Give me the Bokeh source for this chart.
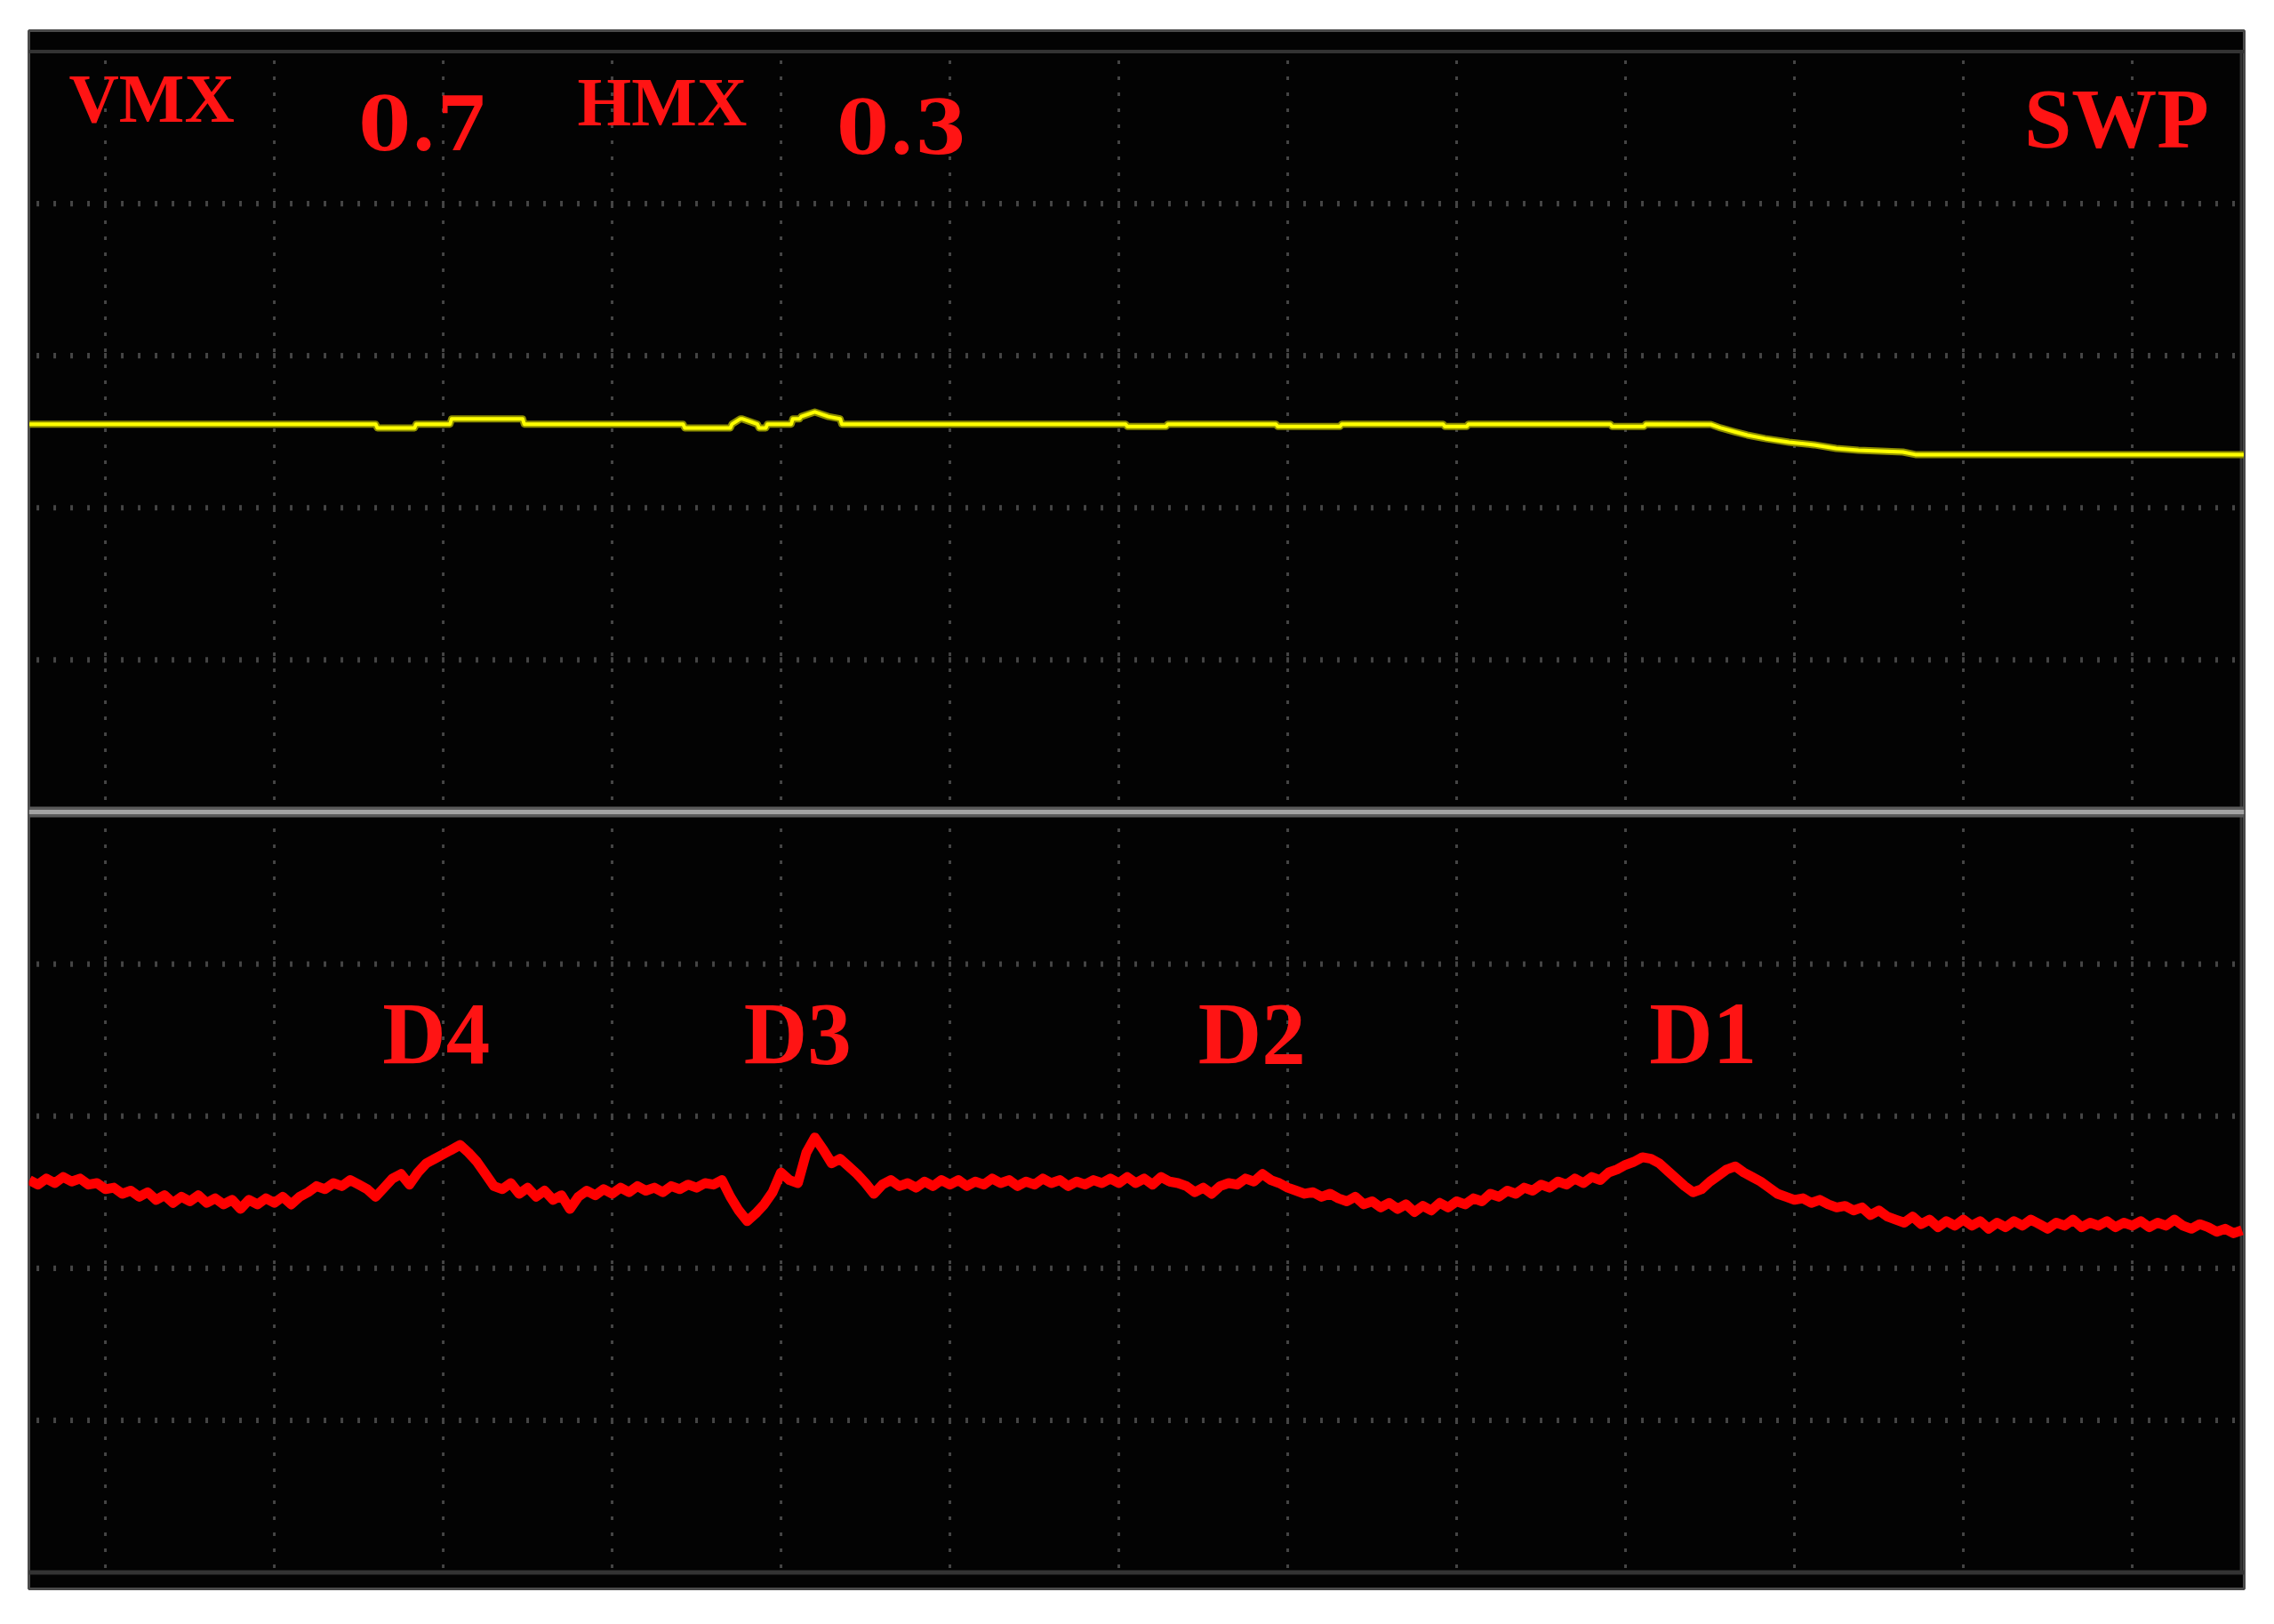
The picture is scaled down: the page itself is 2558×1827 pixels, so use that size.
import numpy as np
from bokeh.plotting import figure
from bokeh.models import Range1d, Label
from bokeh.embed import file_html
from bokeh.resources import INLINE

# ---------------- data (screen divisions) ----------------
# channel 1 (yellow) : step-like trace, x in divisions, y in divisions
ch1_t = [-0.45, 1.60, 1.61, 1.83, 1.84, 2.04, 2.05, 2.47, 2.48, 3.42, 3.43, 3.70, 3.71,
         3.76, 3.77, 3.86, 3.87, 3.91, 3.92, 4.06, 4.07, 4.11, 4.12, 4.20, 4.28, 4.35,
         4.36, 6.04, 6.05, 6.28, 6.29, 6.93, 6.94, 7.31, 7.32, 7.92, 7.93, 8.06, 8.07,
         8.91, 8.92, 9.11, 9.12, 9.505, 9.563, 9.642, 9.721, 9.826, 9.968, 10.116,
         10.247, 10.379, 10.642, 10.716, 12.66]
ch1_v = [2.55, 2.55, 2.525, 2.525, 2.55, 2.55, 2.585, 2.585, 2.55, 2.55, 2.525, 2.525, 2.55,
         2.585, 2.585, 2.55, 2.525, 2.525, 2.55, 2.55, 2.585, 2.585, 2.60, 2.63, 2.60, 2.585,
         2.55, 2.55, 2.535, 2.535, 2.55, 2.55, 2.535, 2.535, 2.55, 2.55, 2.535, 2.535, 2.55,
         2.55, 2.535, 2.535, 2.55, 2.548, 2.525, 2.501, 2.478, 2.455, 2.431, 2.414,
         2.390, 2.379, 2.367, 2.350, 2.350]

# channel 2 (red) : sampled every 0.05 div from -0.45 to 12.65
ch2_t = np.round(np.linspace(-0.45, 12.65, 263), 2)
ch2_v = [
    -2.42, -2.45, -2.41, -2.44, -2.40, -2.43, -2.41, -2.45, -2.44, -2.48,
    -2.47, -2.51, -2.49, -2.53, -2.50, -2.55, -2.52, -2.57, -2.53, -2.56,
    -2.52, -2.57, -2.54, -2.58, -2.55, -2.61, -2.55, -2.58, -2.54, -2.57,
    -2.53, -2.58, -2.53, -2.50, -2.46, -2.48, -2.44, -2.46, -2.42, -2.45,
    -2.48, -2.53, -2.47, -2.41, -2.38, -2.45, -2.37, -2.31, -2.28, -2.25,
    -2.22, -2.19, -2.24, -2.30, -2.38, -2.46, -2.48, -2.44, -2.51, -2.47,
    -2.53, -2.49, -2.55, -2.52, -2.61, -2.53, -2.49, -2.52, -2.48, -2.51,
    -2.47, -2.50, -2.46, -2.49, -2.47, -2.50, -2.46, -2.48, -2.45, -2.47,
    -2.44, -2.45, -2.42, -2.53, -2.62, -2.69, -2.64, -2.58, -2.50, -2.37,
    -2.42, -2.44, -2.24, -2.14, -2.22, -2.31, -2.28, -2.33, -2.38, -2.44,
    -2.51, -2.45, -2.42, -2.46, -2.44, -2.47, -2.43, -2.46, -2.42, -2.45,
    -2.42, -2.46, -2.43, -2.45, -2.41, -2.44, -2.42, -2.46, -2.43, -2.45,
    -2.41, -2.44, -2.42, -2.46, -2.43, -2.45, -2.42, -2.44, -2.41, -2.44,
    -2.40, -2.44, -2.41, -2.45, -2.40, -2.43, -2.44, -2.46, -2.50, -2.47,
    -2.51, -2.46, -2.44, -2.45, -2.41, -2.43, -2.38, -2.42, -2.44, -2.47,
    -2.49, -2.51, -2.50, -2.53, -2.51, -2.54, -2.56, -2.53, -2.58, -2.56,
    -2.60, -2.57, -2.61, -2.58, -2.63, -2.59, -2.62, -2.57, -2.60, -2.56,
    -2.58, -2.54, -2.56, -2.51, -2.53, -2.49, -2.51, -2.47, -2.49, -2.45,
    -2.47, -2.43, -2.45, -2.41, -2.44, -2.40, -2.42, -2.37, -2.35, -2.32,
    -2.30, -2.27, -2.28, -2.31, -2.36, -2.41, -2.46, -2.50, -2.48, -2.43,
    -2.39, -2.35, -2.33, -2.37, -2.40, -2.43, -2.47, -2.51, -2.53, -2.55,
    -2.54, -2.57, -2.55, -2.58, -2.60, -2.59, -2.62, -2.60, -2.65, -2.62,
    -2.66, -2.68, -2.70, -2.66, -2.71, -2.68, -2.73, -2.69, -2.72, -2.68,
    -2.72, -2.69, -2.74, -2.70, -2.73, -2.69, -2.72, -2.68, -2.71, -2.74,
    -2.70, -2.72, -2.68, -2.73, -2.70, -2.72, -2.69, -2.73, -2.70, -2.72,
    -2.69, -2.73, -2.70, -2.72, -2.68, -2.72, -2.74, -2.71, -2.73, -2.76,
    -2.74, -2.77, -2.75,
]

header_text = ["VMX", "HMX"]
value_text = ["0.7", "0.3"]
mode_text = ["SWP"]
defect_text = ["D4", "D3", "D2", "D1"]

# label anchor positions (divisions)
header_x, header_y = [-0.216, 2.795], [4.69, 4.67]
value_x, value_y = [1.50, 4.33], [4.53, 4.51]
mode_x, mode_y = [11.36], [4.56]
defect_x, defect_y = [1.64, 3.78, 6.47, 9.14], [-1.456] * 4

# graticule
vgrid = list(range(0, 13))
hgrid = [-4, -3, -2, -1, 1, 2, 3, 4]

# ---------------- figure ----------------
p = figure(width=2548, height=1818,
           x_range=Range1d(-0.453, 12.663), y_range=Range1d(-5.108, 5.137),
           x_axis_location=None, y_axis_location=None,
           output_backend="svg", toolbar_location=None,
           min_border_left=32, min_border_right=24,
           min_border_top=34, min_border_bottom=31,
           background_fill_color="#030303", border_fill_color="white")
p.grid.visible = False
p.outline_line_color = "#4a4a4a"
p.outline_line_width = 3

GRID = "#454545"
# vertical dotted lines
for gx in vgrid:
    p.line([gx, gx], [-4.97, 4.97], line_color=GRID, line_width=3, line_dash="4 14")

# horizontal tick rows
tick_x = np.round(np.arange(-0.4, 12.62, 0.1), 2)
for gy in hgrid:
    p.segment(x0=tick_x, x1=tick_x, y0=gy - 0.018, y1=gy + 0.018,
              line_color=GRID, line_width=3)

# inner frame lines and divider
p.line([-0.453, 12.663], [5, 5], line_color="#333333", line_width=4)
p.line([-0.453, 12.663], [-5, -5], line_color="#333333", line_width=5)
p.line([12.645, 12.645], [-5, 5], line_color="#333333", line_width=3)
p.line([-0.453, 12.663], [0, 0], line_color="#5a5a5a", line_width=12)
p.line([-0.453, 12.663], [0, 0], line_color="#a3a3a3", line_width=5)

# traces
p.line(ch1_t, ch1_v, line_color="#8c8c00", line_width=8, line_join="round")
p.line(ch1_t, ch1_v, line_color="#ffff00", line_width=4, line_join="round")
p.line(ch2_t, ch2_v, line_color="#ff0000", line_width=11, line_join="round")

RED = "#ff1414"


def add_labels(xs, ys, texts, size, font):
    for lx, ly, lt in zip(xs, ys, texts):
        p.add_layout(Label(x=lx, y=ly, text=lt, text_color=RED,
                           text_font=font, text_font_style="bold",
                           text_font_size=size, text_align="left",
                           text_baseline="alphabetic"))


add_labels(header_x, header_y, header_text, "78px", "Liberation Serif")
add_labels(value_x, value_y, value_text, "84px", "DejaVu Serif")
add_labels(mode_x, mode_y, mode_text, "96px", "Liberation Serif")
add_labels(defect_x, defect_y, defect_text, "99px", "Liberation Serif")

open("out.html", "w").write(file_html(p, INLINE))
